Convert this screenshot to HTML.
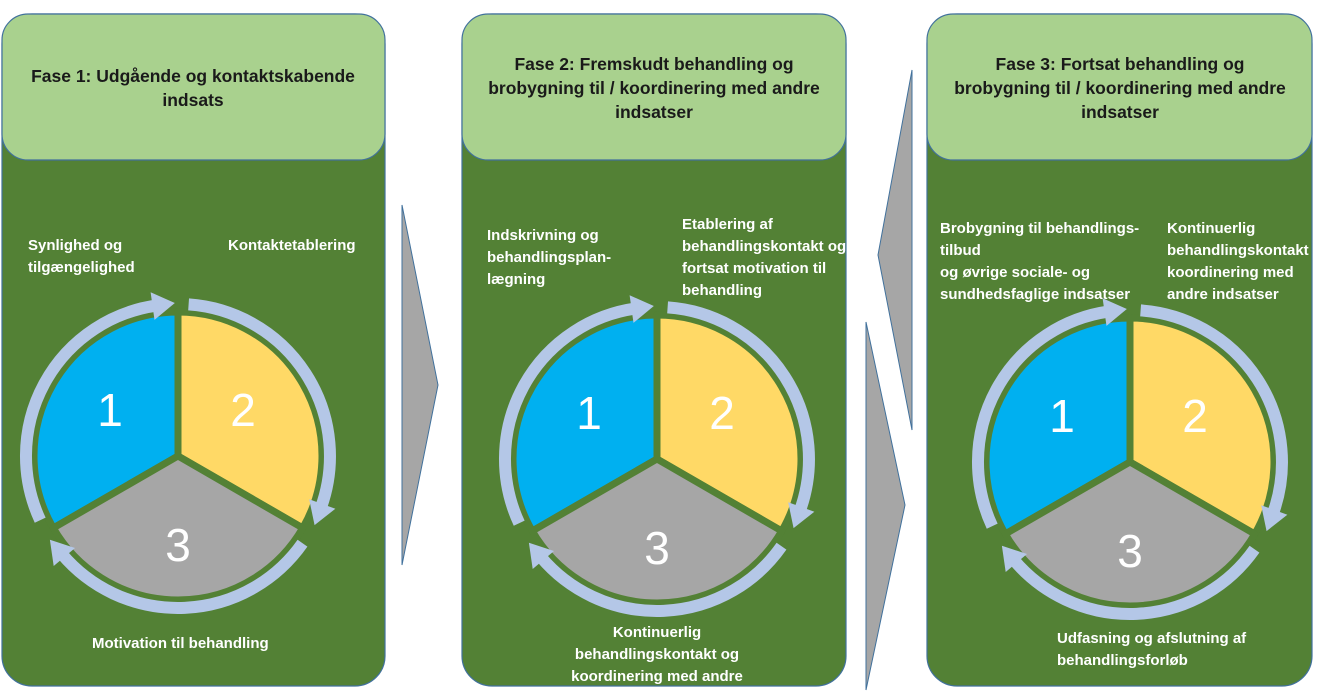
<!DOCTYPE html>
<html><head><meta charset="utf-8"><style>
html,body{margin:0;padding:0;background:#fff;}
svg{display:block;}
.h{font-family:"Liberation Sans",sans-serif;font-weight:bold;font-size:17.5px;fill:#1a1a1a;text-anchor:middle;}
.t{font-family:"Liberation Sans",sans-serif;font-weight:bold;font-size:15px;fill:#fff;}
.n{font-family:"Liberation Sans",sans-serif;font-size:46px;fill:#fff;text-anchor:middle;}
</style></head><body>
<svg width="1320" height="698" viewBox="0 0 1320 698" xmlns="http://www.w3.org/2000/svg">
<defs>
<marker id="ah" markerUnits="userSpaceOnUse" markerWidth="28" markerHeight="30" viewBox="0 -14 22 28" refX="4" refY="0" orient="auto">
<path d="M0,-13 L21,0 L0,13 Z" fill="#b4c7e7"/>
</marker>
<g id="cyc">
<path d="M0,0 L0,-144 A144 144 0 0 0 -124.7 72 Z" fill="#00b0f0" stroke="#538135" stroke-width="7" stroke-linejoin="round"/>
<path d="M0,0 L0,-144 A144 144 0 0 1 124.7 72 Z" fill="#ffd966" stroke="#538135" stroke-width="7" stroke-linejoin="round"/>
<path d="M0,0 L124.7,72 A144 144 0 0 1 -124.7 72 Z" fill="#a6a6a6" stroke="#538135" stroke-width="7" stroke-linejoin="round"/>
<path d="M-137.8,64.2 A152 152 0 0 1 -21.2,-150.5" fill="none" stroke="#b4c7e7" stroke-width="12" marker-end="url(#ah)"/>
<path d="M10.6,-151.6 A152 152 0 0 1 142.8,52" fill="none" stroke="#b4c7e7" stroke-width="12" marker-end="url(#ah)"/>
<path d="M124.5,87.2 A152 152 0 0 1 -116.4,97.7" fill="none" stroke="#b4c7e7" stroke-width="12" marker-end="url(#ah)"/>
<text class="n" x="-68" y="-30">1</text>
<text class="n" x="65" y="-30">2</text>
<text class="n" x="0" y="105">3</text>
</g>
</defs>

<polygon points="402,205 438,385 402,565" fill="#a6a6a6" stroke="#41719c" stroke-width="1"/>
<polygon points="912,70 878,255 912,430" fill="#a6a6a6" stroke="#41719c" stroke-width="1"/>
<polygon points="866,322 905,505 866,690" fill="#a6a6a6" stroke="#41719c" stroke-width="1"/>

<g>
<rect x="2" y="14" width="383" height="672" rx="30" fill="#538135" stroke="#41719c" stroke-width="1.2"/>
<rect x="2" y="14" width="383" height="146" rx="26" fill="#a9d18e" stroke="#41719c" stroke-width="1.2"/>
<text class="h" x="193" y="82">Fase 1: Udgående og kontaktskabende</text>
<text class="h" x="193" y="106">indsats</text>
<text class="t" x="28" y="250">Synlighed og</text>
<text class="t" x="28" y="272">tilgængelighed</text>
<text class="t" x="228" y="250">Kontaktetablering</text>
<use href="#cyc" x="178" y="456"/>
<text class="t" x="92" y="648">Motivation til behandling</text>
</g>

<g>
<rect x="462" y="14" width="384" height="672" rx="30" fill="#538135" stroke="#41719c" stroke-width="1.2"/>
<rect x="462" y="14" width="384" height="146" rx="26" fill="#a9d18e" stroke="#41719c" stroke-width="1.2"/>
<text class="h" x="654" y="70">Fase 2: Fremskudt behandling og</text>
<text class="h" x="654" y="94">brobygning til / koordinering med andre</text>
<text class="h" x="654" y="118">indsatser</text>
<text class="t" x="487" y="240">Indskrivning og</text>
<text class="t" x="487" y="262">behandlingsplan-</text>
<text class="t" x="487" y="284">lægning</text>
<text class="t" x="682" y="229">Etablering af</text>
<text class="t" x="682" y="251">behandlingskontakt og</text>
<text class="t" x="682" y="273">fortsat motivation til</text>
<text class="t" x="682" y="295">behandling</text>
<use href="#cyc" x="657" y="459"/>
<text class="t" x="657" y="637" text-anchor="middle">Kontinuerlig</text>
<text class="t" x="657" y="659" text-anchor="middle">behandlingskontakt og</text>
<text class="t" x="657" y="681" text-anchor="middle">koordinering med andre</text>
</g>

<g>
<rect x="927" y="14" width="385" height="672" rx="30" fill="#538135" stroke="#41719c" stroke-width="1.2"/>
<rect x="927" y="14" width="385" height="146" rx="26" fill="#a9d18e" stroke="#41719c" stroke-width="1.2"/>
<text class="h" x="1120" y="70">Fase 3: Fortsat behandling og</text>
<text class="h" x="1120" y="94">brobygning til / koordinering med andre</text>
<text class="h" x="1120" y="118">indsatser</text>
<text class="t" x="940" y="233">Brobygning til behandlings-</text>
<text class="t" x="940" y="255">tilbud</text>
<text class="t" x="940" y="277">og øvrige sociale- og</text>
<text class="t" x="940" y="299">sundhedsfaglige indsatser</text>
<text class="t" x="1167" y="233">Kontinuerlig</text>
<text class="t" x="1167" y="255">behandlingskontakt</text>
<text class="t" x="1167" y="277">koordinering med</text>
<text class="t" x="1167" y="299">andre indsatser</text>
<use href="#cyc" x="1130" y="462"/>
<text class="t" x="1057" y="643">Udfasning og afslutning af</text>
<text class="t" x="1057" y="665">behandlingsforløb</text>
</g>
</svg>
</body></html>
